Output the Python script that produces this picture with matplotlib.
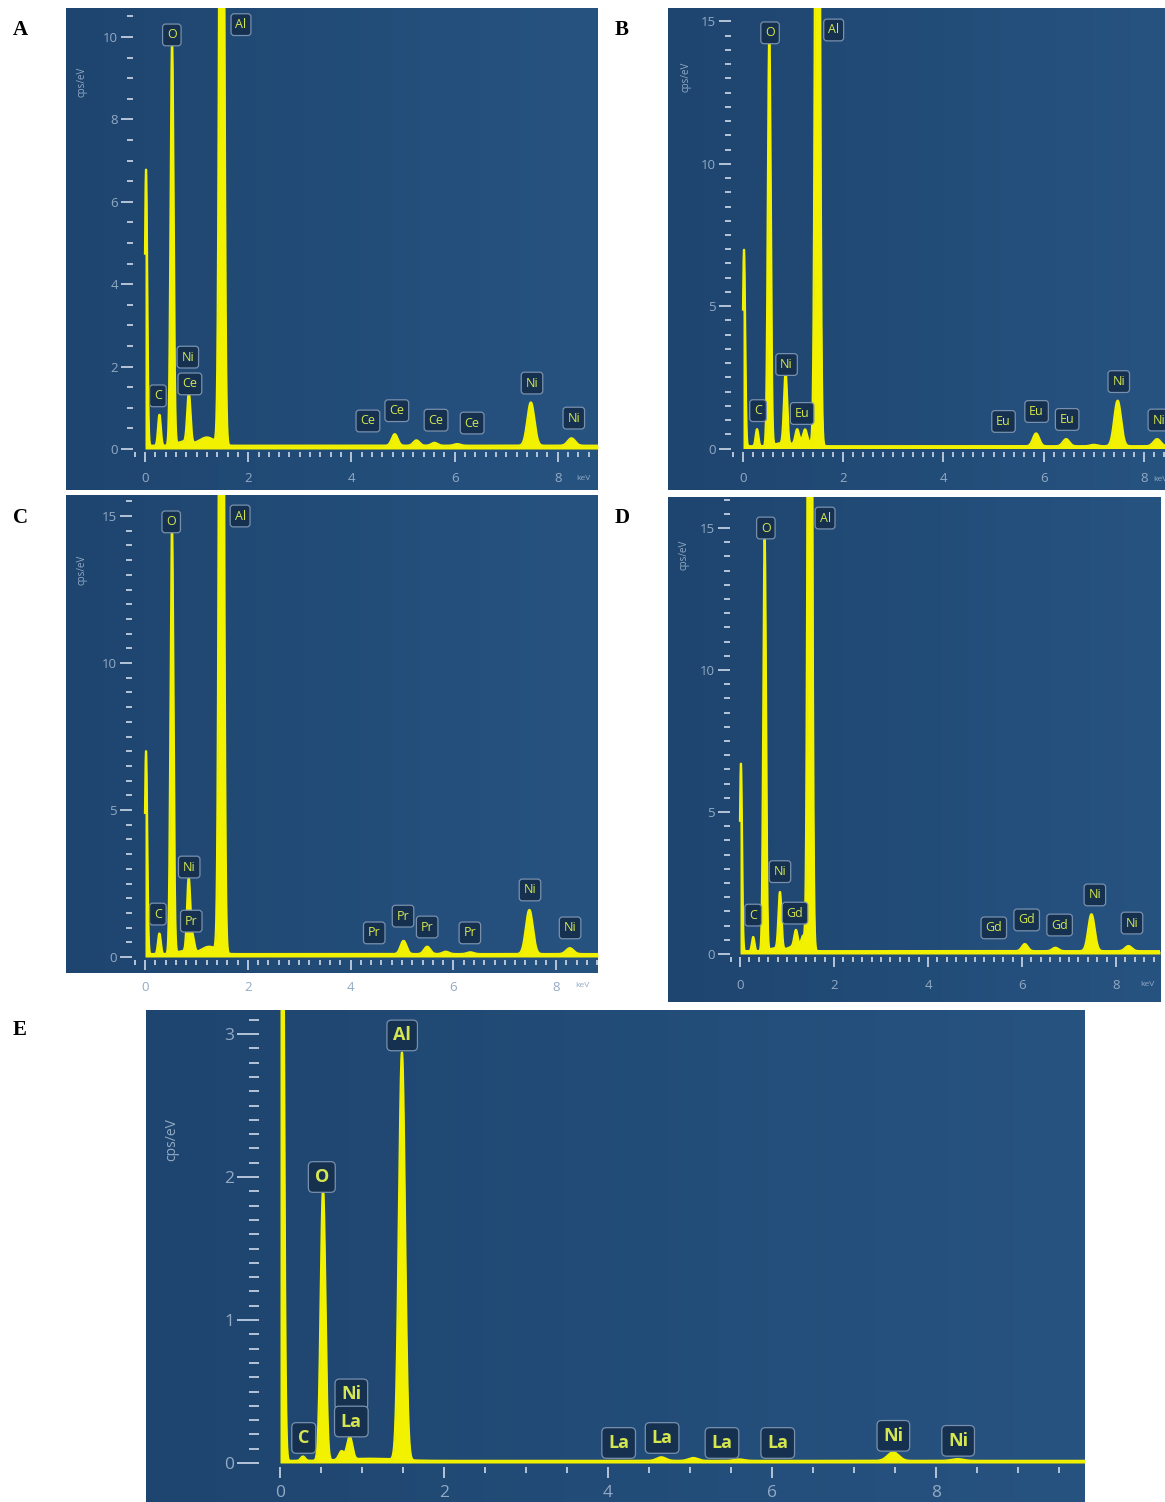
import numpy as np
import matplotlib
matplotlib.use('Agg')
import matplotlib.pyplot as plt
from matplotlib.colors import LinearSegmentedColormap
from matplotlib.ticker import FixedLocator

# ---- EDS spectra, values (keV, cps/eV)
# panel A (Ce)
a_peak_kev = [0.02, 0.28, 0.525, 0.85, 1.487, 4.84, 5.26, 5.61, 6.05, 7.478, 8.265]
a_peak_cps = [6.7, 0.75, 9.8, 1.2, 30.0, 0.28, 0.13, 0.07, 0.04, 1.05, 0.18]
a_floor = 0.08
a_bump_kev = [0.75, 1.2]
a_bump_cps = [0.1, 0.2]
a_bump_w = [0.12, 0.15]
a_lab_txt = ['C', 'O', 'Al', 'Ni', 'Ce', 'Ce', 'Ce', 'Ce', 'Ce', 'Ni', 'Ni']
a_lab_kev = [0.25, 0.52, 1.86, 0.83, 0.87, 4.32, 4.88, 5.64, 6.34, 7.5, 8.31]
a_lab_cps = [1.29, 10.05, 10.3, 2.23, 1.58, 0.68, 0.93, 0.7, 0.63, 1.6, 0.75]
a_yticks = [0, 2, 4, 6, 8, 10]

# panel B (Eu)
b_peak_kev = [0.02, 0.28, 0.525, 0.85, 1.08, 1.24, 1.487, 5.85, 6.45, 7.0, 7.478, 8.265]
b_peak_cps = [6.9, 0.6, 14.5, 2.5, 0.45, 0.4, 45.0, 0.45, 0.25, 0.05, 1.6, 0.25]
b_floor = 0.08
b_bump_kev = [0.75, 1.2]
b_bump_cps = [0.1, 0.2]
b_bump_w = [0.12, 0.15]
b_lab_txt = ['C', 'O', 'Al', 'Ni', 'Eu', 'Eu', 'Eu', 'Eu', 'Ni', 'Ni']
b_lab_kev = [0.3, 0.54, 1.81, 0.87, 1.18, 5.2, 5.86, 6.47, 7.5, 8.3]
b_lab_cps = [1.33, 14.6, 14.7, 2.95, 1.23, 0.95, 1.3, 1.02, 2.35, 1.0]
b_yticks = [0, 5, 10, 15]

# panel C (Pr)
c_peak_kev = [0.02, 0.28, 0.525, 0.85, 0.93, 1.487, 5.03, 5.49, 5.85, 6.33, 7.478, 8.265]
c_peak_cps = [6.9, 0.7, 14.6, 2.5, 0.5, 45.0, 0.45, 0.25, 0.08, 0.06, 1.5, 0.2]
c_floor = 0.1
c_bump_kev = [0.75, 1.25]
c_bump_cps = [0.1, 0.25]
c_bump_w = [0.12, 0.15]
c_lab_txt = ['C', 'O', 'Al', 'Ni', 'Pr', 'Pr', 'Pr', 'Pr', 'Pr', 'Ni', 'Ni']
c_lab_kev = [0.25, 0.51, 1.85, 0.86, 0.9, 4.46, 5.02, 5.49, 6.32, 7.49, 8.27]
c_lab_cps = [1.46, 14.8, 15.0, 3.06, 1.22, 0.82, 1.39, 1.02, 0.82, 2.28, 0.99]
c_yticks = [0, 5, 10, 15]

# panel D (Gd)
d_peak_kev = [0.02, 0.28, 0.525, 0.85, 1.19, 1.34, 1.487, 6.06, 6.71, 7.478, 8.265]
d_peak_cps = [6.6, 0.5, 14.5, 2.0, 0.55, 0.4, 45.0, 0.25, 0.12, 1.3, 0.18]
d_floor = 0.1
d_bump_kev = [0.75, 1.2]
d_bump_cps = [0.1, 0.2]
d_bump_w = [0.12, 0.15]
d_lab_txt = ['C', 'O', 'Al', 'Ni', 'Gd', 'Gd', 'Gd', 'Gd', 'Ni', 'Ni']
d_lab_kev = [0.28, 0.55, 1.81, 0.85, 1.17, 5.4, 6.1, 6.8, 7.55, 8.34]
d_lab_cps = [1.37, 15.0, 15.35, 2.9, 1.44, 0.92, 1.2, 1.02, 2.08, 1.09]
d_yticks = [0, 5, 10, 15]

# panel E (La)
e_peak_kev = [0.02, 0.28, 0.525, 0.75, 0.85, 1.487, 4.65, 5.04, 5.6, 7.478, 8.265]
e_peak_cps = [6.0, 0.03, 1.9, 0.06, 0.16, 2.85, 0.025, 0.02, 0.01, 0.06, 0.012]
e_floor = 0.015
e_bump_kev = [1.1]
e_bump_cps = [0.015]
e_bump_w = [0.3]
e_lab_txt = ['C', 'O', 'Al', 'Ni', 'La', 'La', 'La', 'La', 'La', 'Ni', 'Ni']
e_lab_kev = [0.29, 0.51, 1.49, 0.87, 0.87, 4.13, 4.66, 5.39, 6.07, 7.48, 8.27]
e_lab_cps = [0.175, 2.0, 2.99, 0.48, 0.29, 0.14, 0.175, 0.14, 0.14, 0.19, 0.155]
e_yticks = [0, 1, 2, 3]

data = {
    'A': (a_peak_kev, a_peak_cps, a_floor, a_bump_kev, a_bump_cps, a_bump_w, a_lab_txt, a_lab_kev, a_lab_cps, a_yticks),
    'B': (b_peak_kev, b_peak_cps, b_floor, b_bump_kev, b_bump_cps, b_bump_w, b_lab_txt, b_lab_kev, b_lab_cps, b_yticks),
    'C': (c_peak_kev, c_peak_cps, c_floor, c_bump_kev, c_bump_cps, c_bump_w, c_lab_txt, c_lab_kev, c_lab_cps, c_yticks),
    'D': (d_peak_kev, d_peak_cps, d_floor, d_bump_kev, d_bump_cps, d_bump_w, d_lab_txt, d_lab_kev, d_lab_cps, d_yticks),
    'E': (e_peak_kev, e_peak_cps, e_floor, e_bump_kev, e_bump_cps, e_bump_w, e_lab_txt, e_lab_kev, e_lab_cps, e_yticks),
}

# ---- layout in pixels (top-left origin)
# frame box, keV 0 px, px per keV, cps 0 px, px per cps, y-tick column px, x-tick row px
layout = {
    'A': dict(frame=(66, 8, 598, 490), x0=145, ppk=51.6, y0=449, ppu=41.2, ysp=133, xsp=452, ymin=0.5, xmin=0.2, xpad=7.5),
    'B': dict(frame=(668, 8, 1165, 490), x0=743, ppk=50.1, y0=448.5, ppu=28.47, ysp=731, xsp=452, ymin=0.5, xmin=0.2, xpad=7.5),
    'C': dict(frame=(66, 495, 598, 973), x0=145, ppk=51.4, y0=957, ppu=29.4, ysp=132, xsp=960, ymin=0.5, xmin=0.2, xpad=8),
    'D': dict(frame=(668, 497, 1160, 1002), x0=740, ppk=47.0, y0=954, ppu=28.4, ysp=730, xsp=957, ymin=0.5, xmin=0.2, xpad=9),
    'E': dict(frame=(146, 1010, 1085, 1502), x0=280, ppk=82.0, y0=1463, ppu=143.0, ysp=259, xsp=1467, ymin=0.1, xmin=0.5, xpad=5),
}
cps_pos = {'A': (82, 82), 'B': (686, 77), 'C': (82, 570), 'D': (684, 555), 'E': (172, 1140)}
kev_pos = {'A': (583, 479), 'B': (1160, 480), 'C': (582, 986), 'D': (1147, 985)}
letter_pos = {'A': (20, 30), 'B': (622, 30), 'C': (20, 518), 'D': (622, 518), 'E': (20, 1030)}

W, H = 1165, 1502
fig = plt.figure(figsize=(W / 100, H / 100), dpi=100)
fig.patch.set_facecolor('white')

bg_cmap = LinearSegmentedColormap.from_list('aztec', ['#1e456f', '#275381'])
yellow = '#f2f200'
tick_c = '#b5c5d8'
lab_c = '#93aac4'

for key in ['A', 'B', 'C', 'D', 'E']:
    pk_kev, pk_cps, floor, bm_kev, bm_cps, bm_w, l_txt, l_kev, l_cps, yticks = data[key]
    L = layout[key]
    fx0, fy0, fx1, fy1 = L['frame']
    big = key == 'E'

    ax = fig.add_axes([fx0 / W, 1 - fy1 / H, (fx1 - fx0) / W, (fy1 - fy0) / H])
    ax.imshow(np.linspace(0, 1, 256)[None, :], cmap=bg_cmap, extent=[0, 1, 0, 1],
              transform=ax.transAxes, aspect='auto', zorder=0, interpolation='bicubic')

    xlo = (fx0 - L['x0']) / L['ppk']
    xhi = (fx1 - L['x0']) / L['ppk']
    ylo = (L['y0'] - fy1) / L['ppu']
    yhi = (L['y0'] - fy0) / L['ppu']

    # spectrum built from the peak table (detector resolution sets widths)
    kev = np.arange(0, xhi, 0.002)
    cps = np.full_like(kev, floor)
    for e, h in zip(pk_kev, pk_cps):
        sig = np.sqrt(0.0030 + 0.0030 * e) / 2.355
        cps += h * np.exp(-0.5 * ((kev - e) / sig) ** 2)
    for e, h, w in zip(bm_kev, bm_cps, bm_w):
        cps += h * np.exp(-0.5 * ((kev - e) / w) ** 2)
    ax.fill_between(kev, 0, cps, color=yellow, lw=0, zorder=3)
    ax.plot(kev, cps, color=yellow, lw=1.6, zorder=3)

    # element markers
    fs = 13 if big else 9
    for t, e, c in zip(l_txt, l_kev, l_cps):
        ax.text(e, c, t, ha='center', va='center', fontsize=fs, color='#d6e650',
                fontweight='bold' if big else 'normal', family='Open Sans', zorder=6,
                bbox=dict(boxstyle='round,pad=0.35,rounding_size=0.25', fc='#15314f',
                          ec='#7890ad', lw=0.9))

    ax.set_xlim(xlo, xhi)
    ax.set_ylim(ylo, yhi)
    ax.set_autoscale_on(False)

    # axes: only the tick columns are drawn
    for s in ax.spines.values():
        s.set_color('none')
    ax.spines['left'].set_position(('data', (L['ysp'] - L['x0']) / L['ppk']))
    ax.spines['bottom'].set_position(('data', (L['y0'] - L['xsp']) / L['ppu']))
    ax.yaxis.set_major_locator(FixedLocator(yticks))
    ax.yaxis.set_minor_locator(FixedLocator(np.arange(0, yhi, L['ymin'])))
    ax.xaxis.set_major_locator(FixedLocator([0, 2, 4, 6, 8]))
    if big:
        ax.xaxis.set_minor_locator(FixedLocator(np.arange(0.5, 9.6, L['xmin'])))
    else:
        ax.xaxis.set_minor_locator(FixedLocator(np.arange(-0.2, xhi, L['xmin'])))

    tl = 12.5 if big else 9.5
    ax.tick_params(axis='y', which='major', length=16 if big else 9, width=1.4, color=tick_c,
                   labelcolor=lab_c, labelsize=tl, pad=2)
    ax.tick_params(axis='y', which='minor', length=7 if big else 4, width=1.4, color=tick_c)
    ax.tick_params(axis='x', which='major', length=8 if big else 7, width=1.4, color=tick_c,
                   labelcolor=lab_c, labelsize=tl, pad=L['xpad'])
    ax.tick_params(axis='x', which='minor', length=4 if big else 3.5, width=1.4, color=tick_c)
    for lab in ax.get_xticklabels() + ax.get_yticklabels():
        lab.set_family('Open Sans')

    # axis captions
    cx, cy = cps_pos[key]
    fig.text(cx / W, 1 - cy / H, 'cps/eV', rotation=90, ha='center', va='center',
             fontsize=10 if big else 7, color=lab_c, family='Open Sans')
    if key in kev_pos:
        kx, ky = kev_pos[key]
        fig.text(kx / W, 1 - ky / H, 'keV', ha='center', va='center', fontsize=6,
                 color=lab_c, family='Open Sans')

    lx, ly = letter_pos[key]
    fig.text(lx / W, 1 - ly / H, key, ha='center', va='center', fontsize=15,
             fontweight='bold', family='Liberation Serif', color='black')

fig.savefig('out.png', dpi=100, facecolor='white')
